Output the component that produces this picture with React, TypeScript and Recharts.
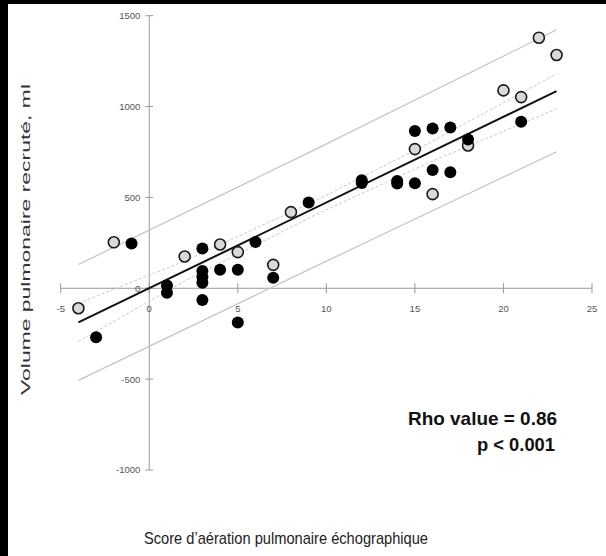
import React from 'react';
import { ScatterChart, Scatter, XAxis, YAxis, ReferenceLine } from 'recharts';

// score (x) / recruited volume in ml (y)
const openX = [-4, -2, 2, 4, 5, 7, 8, 15, 16, 18, 20, 21, 22, 23];
const openY = [-110, 253, 175, 241, 199, 129, 419, 766, 518, 786, 1089, 1052, 1379, 1284];

const filledX = [-3, -1, 1, 1, 3, 3, 3, 3, 3, 4, 5, 5, 6, 7, 9, 12, 12, 14, 14, 15, 15, 16, 16, 17, 17, 18, 21];
const filledY = [-270, 246, 15, -25, 219, 95, 62, 30, -65, 102, 102, -188, 255, 58, 472, 595, 580, 590, 576, 578, 866, 879, 651, 885, 638, 819, 916];

// regression line and bands
const fitX = [-4, 23];
const fitY = [-188, 1085];
const predX = [-4, 9.5, 23];
const predUpper = [131, 770, 1423];
const predLower = [-507, 126, 751];
const confX = [-4, 2, 9.5, 16, 23];
const confUpper = [-83, 150, 487, 810, 1180];
const confLower = [-293, 40, 410, 700, 988];

const xTicks = [-5, 0, 5, 10, 15, 20, 25];
const yTicks = [-1000, -500, 0, 500, 1000, 1500];

const toPoints = (xs: number[], ys: number[]) => xs.map((x, i) => ({ x, y: ys[i] }));

const openData = toPoints(openX, openY);
const filledData = toPoints(filledX, filledY);
const fitData = toPoints(fitX, fitY);
const predUpperData = toPoints(predX, predUpper);
const predLowerData = toPoints(predX, predLower);
const confUpperData = toPoints(confX, confUpper);
const confLowerData = toPoints(confX, confLower);

const AXIS = '#9a9a9a';
const TICK_FONT = { fill: '#555', fontSize: 9.5, fontFamily: 'Liberation Sans, Arial, sans-serif' };

const OpenDot = (p: any) => (
  <circle cx={p.cx} cy={p.cy} r={5.5} fill="#d9d9d9" stroke="#1a1a1a" strokeWidth={1.6} />
);
const FilledDot = (p: any) => <circle cx={p.cx} cy={p.cy} r={6} fill="#000" />;
const NoDot = () => null;

export default function App() {
  return (
    <div style={{ position: 'absolute', left: 0, top: 0, width: 606, height: 556, background: '#000' }}>
      <div style={{ position: 'absolute', left: 8, top: 4, width: 598, height: 552, background: '#fff' }}>
        <ScatterChart width={598} height={552} margin={{ top: 11.7, right: 14, left: 52.7, bottom: 86 }}>
          <XAxis type="number" dataKey="x" domain={[-5, 25]} hide allowDataOverflow />
          <YAxis type="number" dataKey="y" domain={[-1000, 1500]} hide allowDataOverflow />

          {/* axes crossing at zero */}
          <ReferenceLine segment={[{ x: -5, y: 0 }, { x: 25, y: 0 }]} stroke={AXIS} strokeWidth={1} />
          <ReferenceLine segment={[{ x: 0, y: -1000 }, { x: 0, y: 1500 }]} stroke={AXIS} strokeWidth={1} />
          {xTicks.map((t) => (
            <ReferenceLine
              key={'xt' + t}
              segment={[{ x: t, y: -28 }, { x: t, y: 28 }]}
              stroke={AXIS}
              label={{ value: String(t), position: 'bottom', offset: 12, ...TICK_FONT }}
            />
          ))}
          {yTicks.map((t) => (
            <ReferenceLine
              key={'yt' + t}
              segment={[{ x: -0.22, y: t }, { x: 0.22, y: t }]}
              stroke={AXIS}
              label={{ value: String(t), position: 'left', offset: 5, ...TICK_FONT }}
            />
          ))}

          <Scatter data={predUpperData} line={{ stroke: '#c4c4c4', strokeWidth: 1.2 }} shape={NoDot} isAnimationActive={false} />
          <Scatter data={predLowerData} line={{ stroke: '#c4c4c4', strokeWidth: 1.2 }} shape={NoDot} isAnimationActive={false} />
          <Scatter data={confUpperData} line={{ stroke: '#c8c8c8', strokeWidth: 1, strokeDasharray: '3 2' }} shape={NoDot} isAnimationActive={false} />
          <Scatter data={confLowerData} line={{ stroke: '#c8c8c8', strokeWidth: 1, strokeDasharray: '3 2' }} shape={NoDot} isAnimationActive={false} />
          <Scatter data={fitData} line={{ stroke: '#111', strokeWidth: 2 }} shape={NoDot} isAnimationActive={false} />

          <Scatter data={openData} shape={OpenDot} isAnimationActive={false} />
          <Scatter data={filledData} shape={FilledDot} isAnimationActive={false} />
        </ScatterChart>
      </div>

      <svg width={606} height={556} style={{ position: 'absolute', left: 0, top: 0, pointerEvents: 'none' }}>
        <text
          x={29.5}
          y={239.5}
          transform="rotate(-90 29.5 239.5)"
          textAnchor="middle"
          textLength={311}
          lengthAdjust="spacingAndGlyphs"
          fontFamily="Liberation Sans, Arial, sans-serif"
          fontSize={13}
          fill="#333"
        >
          Volume pulmonaire recruté, ml
        </text>
        <text
          x={286}
          y={544}
          textAnchor="middle"
          textLength={284}
          lengthAdjust="spacingAndGlyphs"
          fontFamily="Liberation Sans, Arial, sans-serif"
          fontSize={17}
          fill="#222"
        >
          Score d’aération pulmonaire échographique
        </text>
        <text
          x={557}
          y={425}
          textAnchor="end"
          textLength={149}
          lengthAdjust="spacingAndGlyphs"
          fontFamily="Liberation Sans, Arial, sans-serif"
          fontWeight="bold"
          fontSize={19}
          fill="#111"
        >
          Rho value = 0.86
        </text>
        <text
          x={555}
          y={451}
          textAnchor="end"
          textLength={78}
          lengthAdjust="spacingAndGlyphs"
          fontFamily="Liberation Sans, Arial, sans-serif"
          fontWeight="bold"
          fontSize={19}
          fill="#111"
        >
          p &lt; 0.001
        </text>
      </svg>
    </div>
  );
}
